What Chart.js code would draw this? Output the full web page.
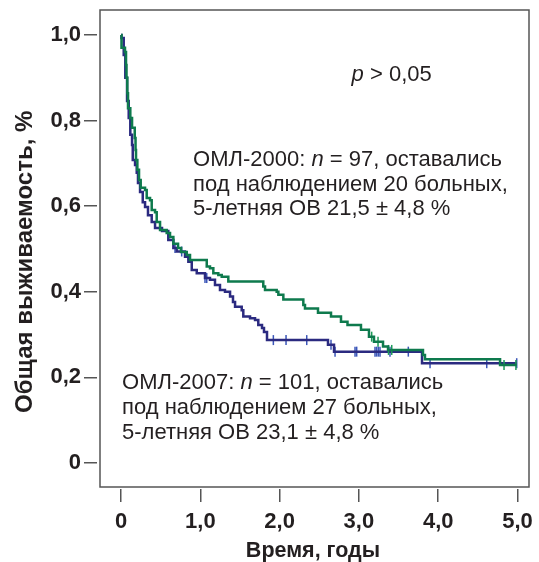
<!DOCTYPE html>
<html>
<head>
<meta charset="utf-8">
<script src="https://cdn.jsdelivr.net/npm/chart.js@4.4.1/dist/chart.umd.min.js"></script>
<style>
  html, body { margin: 0; padding: 0; background: #fff; }
  #wrap { width: 539px; height: 562px; }
</style>
</head>
<body>
<div id="wrap"><canvas id="km"></canvas></div>
<script>
// Tick labels
const xTicks = [0, 1, 2, 3, 4, 5];
const yTicks = [0, 0.2, 0.4, 0.6, 0.8, 1.0];

// ОМЛ-2000 (green): event times (years) and survival after each event
const g2000Times = [0, 0.006, 0.05, 0.063, 0.069, 0.079, 0.088, 0.117, 0.139, 0.173, 0.183, 0.189, 0.206, 0.227, 0.248,
  0.303, 0.324, 0.366, 0.387, 0.429, 0.45, 0.492, 0.576, 0.618, 0.66, 0.719, 0.757, 0.829, 0.87,
  1.081, 1.122, 1.164, 1.227, 1.27, 1.353, 1.794, 1.816, 1.963, 1.984, 2.047, 2.299, 2.32, 2.484,
  2.648, 2.774, 2.856, 3.026, 3.127, 3.19, 3.304, 3.367, 3.808, 3.833, 4.78, 4.99];
const g2000Surv = [1.0, 0.97, 0.96, 0.93, 0.90, 0.864, 0.829, 0.806, 0.783, 0.759, 0.731, 0.708, 0.685, 0.661, 0.643,
  0.638, 0.619, 0.614, 0.591, 0.586, 0.563, 0.544, 0.537, 0.528, 0.512, 0.502, 0.493, 0.486, 0.474,
  0.459, 0.455, 0.443, 0.439, 0.435, 0.424, 0.412, 0.404, 0.40, 0.393, 0.382, 0.369, 0.361, 0.351,
  0.342, 0.33, 0.322, 0.311, 0.295, 0.283, 0.272, 0.264, 0.252, 0.242, 0.229, 0.229];
const g2000Censored = [3.161, 3.241, 3.373, 3.414, 4.83, 4.98];

// ОМЛ-2007 (blue)
const b2007Times = [0, 0.006, 0.034, 0.054, 0.076, 0.097, 0.117, 0.139, 0.148, 0.177, 0.198, 0.214, 0.24, 0.274,
  0.303, 0.34, 0.387, 0.429, 0.517, 0.596, 0.66, 0.702, 0.807, 0.849, 0.892, 0.955, 1.059, 1.122,
  1.185, 1.248, 1.311, 1.375, 1.412, 1.438, 1.522, 1.542, 1.627, 1.69, 1.731, 1.778, 1.803, 1.841,
  2.61, 2.686, 3.796, 4.99];
const b2007Surv = [1.0, 0.993, 0.953, 0.90, 0.846, 0.806, 0.767, 0.743, 0.708, 0.696, 0.678, 0.654, 0.633, 0.609,
  0.598, 0.579, 0.563, 0.549, 0.542, 0.521, 0.502, 0.494, 0.482, 0.47, 0.451, 0.443, 0.432, 0.428,
  0.416, 0.404, 0.40, 0.389, 0.376, 0.365, 0.357, 0.342, 0.338, 0.334, 0.322, 0.315, 0.306, 0.287,
  0.276, 0.26, 0.233, 0.233];
const b2007Censored = [0.681, 0.765, 1.059, 1.081, 1.921, 2.081, 2.342, 2.648, 2.699, 2.951, 2.972, 3.203, 3.224,
  3.245, 3.266, 3.392, 3.623, 3.897, 4.612, 4.99];

const GREEN = '#0e7a4d';
const BLUE = '#2b2a80';
const FONT = '"Liberation Sans", Arial, Helvetica, sans-serif';
const TEXT = '#231f20';
const AXIS = '#555555';

function steps(times, surv) {
  return times.map((t, i) => ({ x: t, y: surv[i] }));
}

// survival level at time t from the step curve
function survAt(times, surv, t) {
  let s = surv[0];
  for (let i = 0; i < times.length; i++) {
    if (times[i] <= t) s = surv[i];
  }
  return s;
}

function censorPoints(times, surv, cens) {
  return cens.map(t => ({ x: t, y: survAt(times, surv, t) }));
}

function drawRich(ctx, x, y, parts, size) {
  let cx = x;
  parts.forEach(p => {
    ctx.font = (p.italic ? 'italic ' : '') + size + 'px ' + FONT;
    ctx.fillText(p.text, cx, y);
    cx += ctx.measureText(p.text).width;
  });
}

const labelsPlugin = {
  id: 'labels',
  beforeDatasetsDraw(chart) {
    const { ctx, chartArea: a } = chart;
    ctx.save();
    ctx.strokeStyle = AXIS;
    ctx.lineWidth = 1.5;
    ctx.strokeRect(a.left + 3, a.top, a.right - a.left - 3, a.bottom - a.top - 2);
    ctx.restore();
  },
  afterDraw(chart) {
    const { ctx, scales: { x, y } } = chart;
    const fs = 22;
    ctx.save();
    ctx.fillStyle = TEXT;
    ctx.textBaseline = 'middle';
    drawRich(ctx, x.getPixelForValue(2.908), y.getPixelForValue(0.907),
      [{ text: 'p', italic: true }, { text: ' > 0,05' }], fs);

    const gx = x.getPixelForValue(0.908);
    drawRich(ctx, gx, y.getPixelForValue(0.708),
      [{ text: 'ОМЛ-2000: ' }, { text: 'n', italic: true }, { text: ' = 97, оставались' }], fs);
    drawRich(ctx, gx, y.getPixelForValue(0.650), [{ text: 'под наблюдением 20 больных,' }], fs);
    drawRich(ctx, gx, y.getPixelForValue(0.593), [{ text: '5-летняя ОВ 21,5 ± 4,8 %' }], fs);

    const bx = x.getPixelForValue(0.013);
    drawRich(ctx, bx, y.getPixelForValue(0.187),
      [{ text: 'ОМЛ-2007: ' }, { text: 'n', italic: true }, { text: ' = 101, оставались' }], fs);
    drawRich(ctx, bx, y.getPixelForValue(0.129), [{ text: 'под наблюдением 27 больных,' }], fs);
    drawRich(ctx, bx, y.getPixelForValue(0.070), [{ text: '5-летняя ОВ 23,1 ± 4,8 %' }], fs);

    // y axis title, sits a little below the middle of the box
    ctx.translate(25, y.getPixelForValue(0.47));
    ctx.rotate(-Math.PI / 2);
    ctx.textAlign = 'center';
    ctx.font = 'bold 24px ' + FONT;
    ctx.fillText('Общая выживаемость, %', 0, 0);
    ctx.restore();
  }
};

const fmt = v => (v === 0 ? '0' : v.toFixed(1).replace('.', ','));

new Chart(document.getElementById('km'), {
  type: 'scatter',
  data: {
    datasets: [
      {
        label: 'ОМЛ-2007 выбывшие',
        data: censorPoints(b2007Times, b2007Surv, b2007Censored),
        showLine: false,
        pointStyle: 'line',
        rotation: 90,
        radius: 5,
        borderColor: '#3b56b8',
        borderWidth: 1.5,
        order: 4
      },
      {
        label: 'ОМЛ-2007',
        data: steps(b2007Times, b2007Surv),
        showLine: true,
        stepped: true,
        borderColor: BLUE,
        borderWidth: 2.5,
        pointRadius: 0,
        order: 3
      },
      {
        label: 'ОМЛ-2000 выбывшие',
        data: censorPoints(g2000Times, g2000Surv, g2000Censored),
        showLine: false,
        pointStyle: 'line',
        rotation: 90,
        radius: 5,
        borderColor: '#1c9a58',
        borderWidth: 1.5,
        order: 2
      },
      {
        label: 'ОМЛ-2000',
        data: steps(g2000Times, g2000Surv),
        showLine: true,
        stepped: true,
        borderColor: GREEN,
        borderWidth: 2.5,
        pointRadius: 0,
        order: 1
      }
    ]
  },
  options: {
    responsive: true,
    maintainAspectRatio: false,
    animation: false,
    layout: { padding: { top: 10, right: 10, left: 0, bottom: 0 } },
    plugins: {
      legend: { display: false },
      tooltip: { enabled: false }
    },
    scales: {
      x: {
        type: 'linear',
        min: -0.303,
        max: 5.145,
        afterBuildTicks: s => { s.ticks = xTicks.map(v => ({ value: v })); },
        afterFit: s => { s.height = 73; s.paddingLeft = 0; s.paddingRight = 0; },
        grid: { drawOnChartArea: false, drawTicks: true, tickLength: 13, color: AXIS, lineWidth: 1.5 },
        border: { display: false },
        ticks: {
          callback: v => fmt(v),
          color: TEXT,
          padding: 7,
          maxRotation: 0,
          font: { family: FONT, size: 22, weight: 'bold' }
        },
        title: {
          display: true,
          text: 'Время, годы',
          color: TEXT,
          padding: { top: 0, bottom: -2 },
          font: { family: FONT, size: 21.5, weight: 'bold' }
        }
      },
      y: {
        type: 'linear',
        min: -0.061,
        max: 1.0584,
        afterBuildTicks: s => { s.ticks = yTicks.map(v => ({ value: v })); },
        afterFit: s => { s.width = 97; s.paddingTop = 0; s.paddingBottom = 0; },
        grid: { drawOnChartArea: false, drawTicks: true, tickLength: 13, color: AXIS, lineWidth: 1.5 },
        border: { display: false },
        ticks: {
          callback: v => fmt(v),
          color: TEXT,
          padding: 3,
          font: { family: FONT, size: 22, weight: 'bold' }
        },
        title: { display: false }
      }
    }
  },
  plugins: [labelsPlugin]
});
</script>
</body>
</html>
